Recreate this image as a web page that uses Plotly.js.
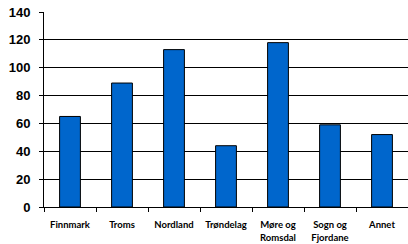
<!DOCTYPE html>
<html><head><meta charset="utf-8">
<script src="https://cdn.plot.ly/plotly-3.0.1.min.js"></script>
<style>html,body{margin:0;padding:0;background:#fff}#chart{width:408px;height:244px}</style>
</head><body><div id="chart"></div>
<script>
const categories = ["Finnmark", "Troms", "Nordland", "Trøndelag", "Møre og<br>Romsdal", "Sogn og<br>Fjordane", "Annet"];
const values = [65, 89, 113, 44, 118, 59, 52];
const yTicks = [0, 20, 40, 60, 80, 100, 120, 140];

Plotly.newPlot("chart", [{
  type: "bar",
  x: categories,
  y: values,
  marker: {color: "#0066CC", line: {color: "#000", width: 1}},
  hoverinfo: "none"
}], {
  width: 408, height: 244,
  margin: {l: 44, r: 0, t: 12, b: 37, pad: 0},
  paper_bgcolor: "#fff", plot_bgcolor: "#fff",
  bargap: 0.6,
  showlegend: false,
  xaxis: {
    type: "category",
    tickson: "boundaries",
    tickangle: 0,
    ticks: "outside", ticklen: 4, tickcolor: "#000", tickwidth: 1,
    showline: true, linecolor: "#000", linewidth: 1,
    showgrid: false, zeroline: false,
    tickfont: {family: "Comic Sans MS, Lato, sans-serif", size: 9.5, color: "#000", weight: "bold"},
    ticklabelstandoff: 9
  },
  yaxis: {
    range: [0, 140],
    tickvals: yTicks,
    ticks: "outside", ticklen: 4, tickcolor: "#000", tickwidth: 1,
    showline: true, linecolor: "#000", linewidth: 1,
    showgrid: true, gridcolor: "#000", gridwidth: 1,
    zeroline: false,
    tickfont: {family: "Liberation Sans, Arial, sans-serif", size: 13, color: "#000", weight: "bold"},
    ticklabelstandoff: 6
  }
}, {staticPlot: true});
</script>
</body></html>
